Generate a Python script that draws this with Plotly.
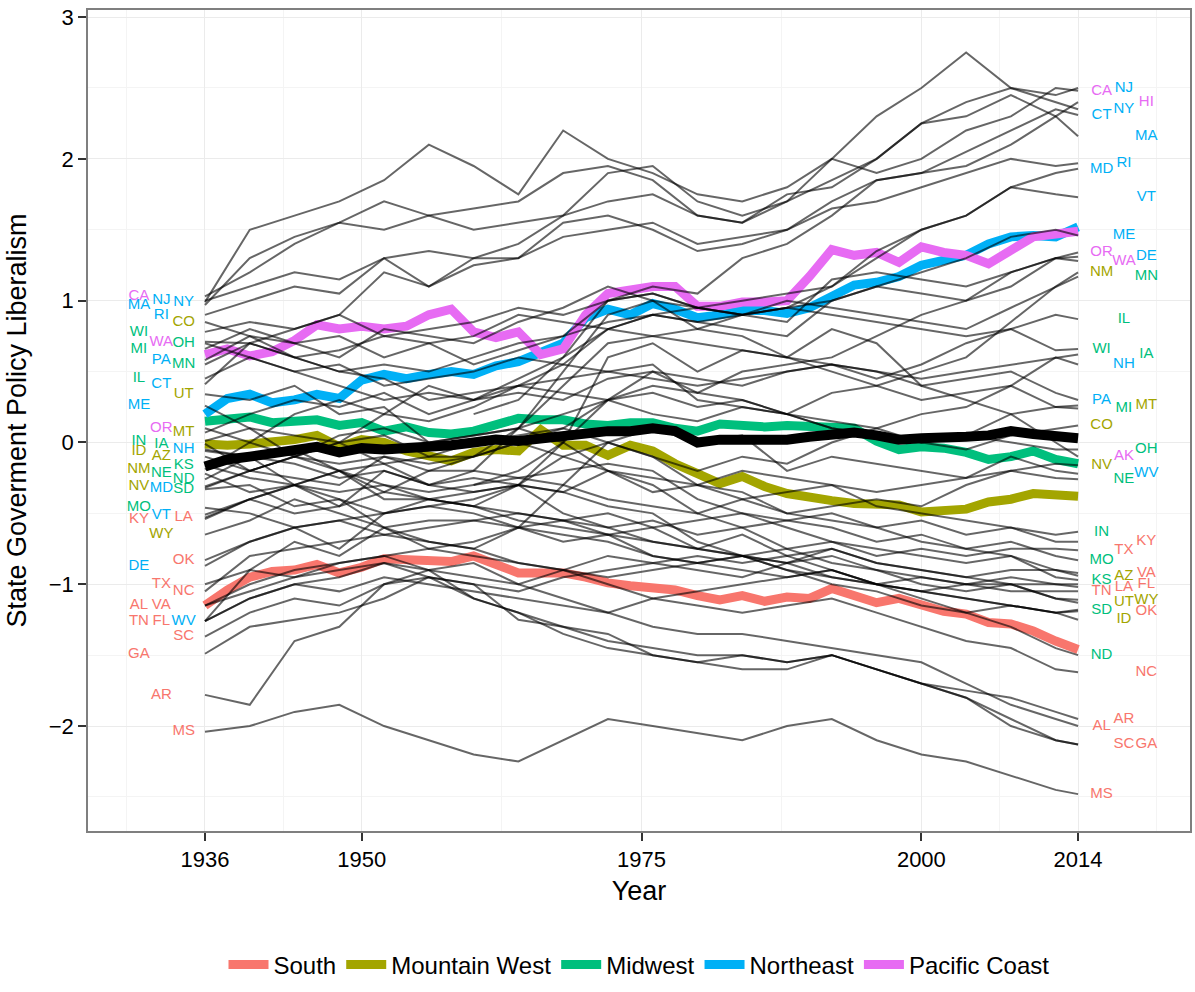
import plotly.graph_objects as go

# sample years for the individual state series
YEARS = [1936, 1940, 1944, 1948, 1952, 1956, 1960, 1964, 1968, 1972, 1976,
         1980, 1984, 1988, 1992, 1996, 2000, 2004, 2008, 2012, 2014]

SOUTH = {
    "AL": [-1.15, -1.0, -0.9, -0.85, -0.8, -0.9, -0.85, -1.0, -1.1, -1.2, -1.3, -1.35, -1.35, -1.4, -1.45, -1.5, -1.55, -1.7, -1.85, -1.95, -2.0],
    "AR": [-1.78, -1.85, -1.4, -1.3, -1.0, -0.95, -1.0, -1.25, -1.3, -1.35, -1.5, -1.55, -1.6, -1.6, -1.5, -1.6, -1.7, -1.75, -1.8, -1.9, -1.95],
    "FL": [-1.26, -1.1, -1.0, -0.95, -0.85, -0.9, -0.95, -1.0, -0.9, -0.8, -0.85, -0.9, -0.95, -0.85, -0.8, -0.9, -0.95, -1.0, -0.95, -1.0, -1.0],
    "GA": [-1.49, -1.3, -1.25, -1.2, -1.1, -0.95, -1.1, -1.2, -1.3, -1.4, -1.45, -1.5, -1.5, -1.55, -1.5, -1.6, -1.7, -1.8, -2.0, -2.1, -2.13],
    "KY": [-0.54, -0.4, -0.5, -0.45, -0.35, -0.4, -0.45, -0.5, -0.55, -0.6, -0.55, -0.65, -0.6, -0.55, -0.5, -0.6, -0.55, -0.65, -0.6, -0.7, -0.7],
    "LA": [-0.53, -0.4, -0.3, -0.35, -0.3, -0.4, -0.45, -0.55, -0.6, -0.65, -0.7, -0.75, -0.8, -0.85, -0.75, -0.85, -0.9, -0.95, -1.0, -1.0, -1.02],
    "MS": [-2.04, -2.0, -1.9, -1.85, -2.0, -2.1, -2.2, -2.25, -2.1, -1.95, -2.0, -2.05, -2.1, -2.0, -1.95, -2.1, -2.2, -2.25, -2.35, -2.45, -2.48],
    "NC": [-1.05, -0.8, -0.75, -0.7, -0.65, -0.7, -0.75, -0.85, -0.9, -1.0, -1.1, -1.15, -1.2, -1.15, -1.1, -1.2, -1.3, -1.4, -1.45, -1.6, -1.62],
    "OK": [-0.83, -0.7, -0.6, -0.55, -0.5, -0.45, -0.5, -0.6, -0.65, -0.7, -0.8, -0.85, -0.9, -0.95, -0.9, -1.0, -1.05, -1.1, -1.15, -1.2, -1.19],
    "SC": [-1.37, -1.2, -1.1, -1.15, -1.0, -0.9, -1.1, -1.2, -1.35, -1.45, -1.5, -1.55, -1.5, -1.55, -1.5, -1.6, -1.7, -1.8, -1.95, -2.1, -2.13],
    "TN": [-1.26, -1.1, -1.0, -1.05, -0.95, -1.0, -1.05, -1.1, -1.15, -1.2, -1.1, -1.05, -1.0, -0.95, -0.9, -1.0, -0.95, -1.0, -1.05, -1.05, -1.05],
    "TX": [-1.0, -0.9, -0.95, -0.85, -0.8, -0.75, -0.8, -0.85, -0.9, -0.95, -0.9, -0.85, -0.8, -0.75, -0.7, -0.8, -0.75, -0.8, -0.75, -0.75, -0.76],
    "VA": [-1.15, -1.05, -0.95, -0.9, -0.85, -0.95, -1.0, -1.05, -0.95, -0.9, -0.85, -0.8, -0.85, -0.8, -0.75, -0.85, -0.9, -0.95, -0.9, -0.9, -0.92],
}

MOUNTAIN_WEST = {
    "AZ": [-0.10, -0.2, -0.1, -0.2, -0.3, -0.35, -0.3, -0.25, -0.2, -0.15, -0.2, -0.4, -0.5, -0.6, -0.7, -0.75, -0.8, -0.85, -0.8, -0.9, -0.94],
    "CO": [0.85, 0.75, 0.6, 0.5, 0.45, 0.3, 0.35, 0.4, 0.45, 0.5, 0.55, 0.3, 0.25, 0.2, 0.1, 0.05, 0.0, -0.05, 0.05, 0.1, 0.12],
    "ID": [-0.06, -0.1, -0.05, -0.2, -0.15, -0.3, -0.25, -0.3, -0.35, -0.45, -0.5, -0.7, -0.8, -0.9, -1.0, -1.05, -1.15, -1.2, -1.15, -1.2, -1.25],
    "MT": [0.07, 0.2, 0.3, 0.25, 0.35, 0.2, 0.3, 0.35, 0.3, 0.45, 0.5, 0.35, 0.3, 0.2, 0.15, 0.1, 0.0, 0.05, 0.2, 0.25, 0.26],
    "NM": [-0.19, 0.0, -0.1, 0.05, 0.1, 0.0, 0.05, 0.1, 0.2, 0.3, 0.35, 0.25, 0.3, 0.2, 0.35, 0.4, 0.5, 0.6, 0.85, 1.1, 1.2],
    "NV": [-0.31, -0.2, -0.1, 0.0, 0.05, -0.1, 0.0, 0.05, 0.1, 0.0, -0.1, -0.3, -0.35, -0.5, -0.45, -0.4, -0.45, -0.3, -0.2, -0.15, -0.16],
    "UT": [0.34, 0.3, 0.4, 0.2, 0.25, 0.0, 0.05, 0.1, 0.0, -0.2, -0.3, -0.5, -0.6, -0.75, -0.85, -0.9, -1.0, -1.05, -1.0, -1.1, -1.13],
    "WY": [-0.65, -0.55, -0.4, -0.5, -0.6, -0.75, -0.7, -0.6, -0.55, -0.65, -0.6, -0.75, -0.8, -0.85, -0.95, -1.0, -1.05, -1.0, -1.0, -1.1, -1.11],
}

MIDWEST = {
    "IA": [-0.01, -0.2, -0.1, -0.15, -0.1, -0.2, -0.1, 0.0, 0.1, 0.3, 0.5, 0.45, 0.4, 0.5, 0.55, 0.5, 0.45, 0.5, 0.55, 0.6, 0.62],
    "IL": [0.45, 0.6, 0.5, 0.55, 0.4, 0.45, 0.5, 0.6, 0.55, 0.5, 0.45, 0.4, 0.45, 0.5, 0.55, 0.45, 0.55, 0.7, 0.8, 0.9, 0.87],
    "IN": [0.01, 0.1, -0.1, 0.0, -0.15, -0.1, -0.1, 0.0, -0.1, -0.2, -0.35, -0.3, -0.4, -0.35, -0.3, -0.45, -0.5, -0.55, -0.6, -0.65, -0.63],
    "KS": [-0.16, -0.25, -0.3, -0.2, -0.35, -0.2, -0.2, -0.25, -0.3, -0.4, -0.45, -0.5, -0.4, -0.5, -0.55, -0.6, -0.7, -0.75, -0.8, -0.95, -0.97],
    "MI": [0.66, 0.8, 0.7, 0.75, 0.6, 0.7, 0.75, 0.9, 0.85, 0.8, 0.75, 0.7, 0.65, 0.6, 0.5, 0.4, 0.3, 0.35, 0.4, 0.25, 0.24],
    "MN": [0.55, 0.7, 0.6, 0.5, 0.55, 0.5, 0.6, 0.7, 0.75, 0.85, 0.9, 0.95, 0.9, 1.0, 0.95, 0.9, 0.85, 0.8, 0.95, 1.1, 1.17],
    "MO": [-0.46, -0.5, -0.6, -0.55, -0.65, -0.6, -0.55, -0.5, -0.55, -0.5, -0.6, -0.55, -0.5, -0.55, -0.6, -0.7, -0.65, -0.75, -0.7, -0.8, -0.83],
    "ND": [-0.26, -0.1, -0.3, -0.2, -0.4, -0.4, -0.35, -0.3, -0.5, -0.6, -0.7, -0.75, -0.65, -0.8, -0.9, -1.0, -1.1, -1.2, -1.3, -1.45, -1.5],
    "NE": [-0.22, -0.35, -0.3, -0.4, -0.5, -0.45, -0.4, -0.3, -0.35, -0.2, -0.25, -0.3, -0.2, -0.25, -0.3, -0.35, -0.3, -0.25, -0.2, -0.25, -0.26],
    "OH": [0.70, 0.6, 0.5, 0.4, 0.3, 0.35, 0.3, 0.4, 0.35, 0.3, 0.2, 0.15, 0.25, 0.2, 0.1, 0.05, 0.0, 0.05, 0.0, -0.05, -0.05],
    "SD": [-0.33, -0.3, -0.45, -0.4, -0.6, -0.55, -0.55, -0.6, -0.7, -0.65, -0.8, -0.85, -0.8, -0.9, -0.95, -1.0, -1.05, -1.1, -1.15, -1.2, -1.18],
    "WI": [0.78, 0.85, 0.8, 0.9, 0.75, 0.8, 0.85, 0.95, 0.9, 1.0, 1.05, 0.95, 0.9, 0.95, 0.9, 0.85, 0.8, 0.75, 0.8, 0.65, 0.66],
}

NORTHEAST = {
    "CT": [0.41, 0.7, 0.8, 0.9, 1.2, 1.1, 1.3, 1.3, 1.55, 1.6, 1.5, 1.35, 1.4, 1.5, 1.7, 1.85, 1.9, 2.05, 2.2, 2.35, 2.31],
    "DE": [-0.87, -0.7, -0.6, -0.75, -0.5, -0.4, -0.45, -0.3, 0.0, 0.3, 0.4, 0.35, 0.5, 0.55, 0.6, 0.75, 0.9, 1.0, 1.2, 1.3, 1.31],
    "MA": [0.97, 1.3, 1.45, 1.55, 1.7, 1.6, 1.65, 1.7, 1.9, 1.95, 1.85, 1.6, 1.55, 1.75, 1.8, 2.0, 2.25, 2.3, 2.45, 2.3, 2.16],
    "MD": [-0.32, -0.2, -0.25, -0.3, -0.1, -0.15, -0.1, 0.1, 0.4, 0.7, 0.75, 0.8, 0.9, 0.95, 1.1, 1.35, 1.5, 1.6, 1.8, 1.9, 1.93],
    "ME": [0.26, 0.1, 0.05, 0.0, 0.2, 0.15, 0.25, 0.4, 0.55, 0.8, 0.9, 0.85, 0.9, 0.95, 1.0, 1.1, 1.2, 1.3, 1.45, 1.5, 1.46],
    "NH": [-0.05, -0.1, -0.15, -0.25, -0.2, -0.3, -0.35, -0.3, -0.1, 0.0, -0.1, -0.2, -0.1, -0.15, 0.0, 0.1, 0.2, 0.25, 0.4, 0.6, 0.55],
    "NJ": [1.0, 1.1, 1.2, 1.15, 1.3, 1.35, 1.3, 1.4, 1.6, 1.7, 1.75, 1.6, 1.55, 1.7, 1.85, 2.0, 2.25, 2.4, 2.5, 2.45, 2.5],
    "NY": [0.99, 1.5, 1.6, 1.7, 1.85, 2.1, 1.95, 1.75, 2.2, 2.0, 1.9, 1.75, 1.7, 1.8, 2.0, 2.3, 2.5, 2.75, 2.5, 2.4, 2.35],
    "PA": [0.58, 0.75, 0.7, 0.6, 0.8, 0.75, 0.7, 0.85, 0.95, 1.1, 1.0, 0.8, 0.75, 0.6, 0.55, 0.5, 0.4, 0.45, 0.5, 0.35, 0.3],
    "RI": [0.9, 1.0, 1.1, 1.05, 1.3, 1.1, 1.25, 1.3, 1.45, 1.5, 1.55, 1.4, 1.45, 1.5, 1.65, 1.7, 1.8, 1.9, 2.0, 1.95, 1.97],
    "VT": [-0.51, -0.4, -0.3, -0.45, -0.2, -0.3, -0.2, 0.1, 0.5, 0.9, 1.0, 0.95, 1.0, 1.05, 1.1, 1.3, 1.5, 1.6, 1.8, 1.75, 1.73],
    "WV": [-1.26, -0.9, -0.7, -0.8, -0.6, -0.7, -0.75, -0.6, -0.3, 0.0, 0.1, 0.0, 0.05, -0.2, -0.1, -0.15, -0.2, -0.25, -0.1, -0.2, -0.22],
}

PACIFIC_COAST = {
    "AK": [None, None, None, None, None, None, -0.3, -0.2, 0.0, 0.6, 0.7, 0.5, 0.65, 0.6, 0.8, 0.7, 0.4, 0.3, 0.2, 0.0, -0.1],
    "CA": [1.03, 1.2, 1.4, 1.55, 1.5, 1.6, 1.5, 1.55, 1.6, 1.9, 1.95, 1.7, 1.6, 1.7, 2.0, 1.9, 2.0, 2.2, 2.3, 2.5, 2.48],
    "HI": [None, None, None, None, None, None, 0.2, 0.3, 0.6, 1.0, 1.1, 1.05, 1.3, 1.4, 1.6, 1.85, 1.9, 1.95, 2.1, 2.3, 2.4],
    "OR": [0.1, 0.0, 0.2, 0.3, 0.2, 0.4, 0.3, 0.45, 0.6, 0.8, 0.9, 0.85, 0.8, 0.75, 1.0, 1.1, 1.05, 1.0, 1.1, 1.3, 1.34],
    "WA": [0.71, 0.7, 0.6, 0.65, 0.75, 0.7, 0.55, 0.65, 0.75, 1.0, 1.05, 0.95, 0.9, 0.85, 1.15, 1.2, 1.15, 1.1, 1.2, 1.3, 1.28],
}

# regional and overall averages, read every two years
MEAN_YEARS = list(range(1936, 2015, 2))
SOUTH_MEAN = [-1.15, -1.04, -0.95, -0.91, -0.90, -0.86, -0.92, -0.88, -0.82, -0.83,
              -0.84, -0.84, -0.80, -0.86, -0.92, -0.92, -0.92, -0.95, -0.99, -1.01,
              -1.03, -1.04, -1.08, -1.11, -1.08, -1.12, -1.09, -1.10, -1.03, -1.08,
              -1.13, -1.10, -1.14, -1.19, -1.21, -1.27, -1.28, -1.33, -1.40, -1.46]
MOUNTAIN_WEST_MEAN = [-0.01, -0.02, -0.01, 0.00, 0.02, 0.05, -0.03, 0.02, 0.00, -0.06,
                      -0.10, -0.13, -0.07, -0.05, -0.06, 0.09, -0.02, -0.02, -0.09, -0.02,
                      -0.06, -0.15, -0.22, -0.29, -0.24, -0.31, -0.36, -0.39, -0.41, -0.43,
                      -0.43, -0.44, -0.49, -0.48, -0.47, -0.42, -0.40, -0.36, -0.37, -0.38]
MIDWEST_MEAN = [0.15, 0.17, 0.18, 0.14, 0.15, 0.16, 0.12, 0.14, 0.08, 0.11,
                0.07, 0.06, 0.08, 0.12, 0.17, 0.16, 0.16, 0.13, 0.12, 0.14,
                0.14, 0.10, 0.08, 0.13, 0.12, 0.11, 0.12, 0.11, 0.10, 0.10,
                0.01, -0.05, -0.03, -0.04, -0.07, -0.12, -0.10, -0.06, -0.12, -0.15]
NORTHEAST_MEAN = [0.20, 0.31, 0.34, 0.28, 0.30, 0.34, 0.31, 0.44, 0.48, 0.45,
                  0.48, 0.50, 0.48, 0.54, 0.57, 0.63, 0.70, 0.88, 0.94, 0.90,
                  0.98, 0.94, 0.88, 0.90, 0.93, 0.93, 0.91, 0.95, 1.03, 1.11,
                  1.13, 1.17, 1.25, 1.28, 1.32, 1.40, 1.45, 1.46, 1.45, 1.52]
PACIFIC_COAST_MEAN = [0.62, 0.66, 0.61, 0.64, 0.72, 0.83, 0.80, 0.82, 0.80, 0.82,
                      0.90, 0.94, 0.78, 0.74, 0.78, 0.62, 0.66, 0.90, 1.05, 1.07,
                      1.10, 1.10, 0.96, 0.96, 0.99, 0.99, 1.00, 1.17, 1.36, 1.32,
                      1.34, 1.27, 1.38, 1.34, 1.32, 1.26, 1.35, 1.45, 1.47, 1.49]
ALL_STATES_MEAN = [-0.17, -0.12, -0.10, -0.08, -0.05, -0.03, -0.07, -0.04, -0.05, -0.04,
                   -0.04, -0.02, 0.00, 0.02, 0.01, 0.03, 0.04, 0.06, 0.08, 0.08,
                   0.10, 0.08, 0.00, 0.02, 0.02, 0.01, 0.02, 0.04, 0.06, 0.07,
                   0.05, 0.02, 0.03, 0.03, 0.04, 0.05, 0.08, 0.06, 0.05, 0.03]

REGION_NAMES = ["South", "Mountain West", "Midwest", "Northeast", "Pacific Coast"]
REGION_STATES = [SOUTH, MOUNTAIN_WEST, MIDWEST, NORTHEAST, PACIFIC_COAST]
REGION_MEANS = [SOUTH_MEAN, MOUNTAIN_WEST_MEAN, MIDWEST_MEAN, NORTHEAST_MEAN, PACIFIC_COAST_MEAN]

X_TICKS = [1936, 1950, 1975, 2000, 2014]
Y_TICKS = [-2, -1, 0, 1, 2, 3]

# --- styling / layout -------------------------------------------------------
COLORS = ["#F8766D", "#A3A500", "#00BF7D", "#00B0F6", "#E76BF3"]
# which of the three staggered label columns each state abbreviation sits in
LEFT_COL = {
    "CA": 0, "MA": 0, "WI": 0, "MI": 0, "IL": 0, "ME": 0, "IN": 0, "ID": 0, "NM": 0,
    "NV": 0, "MO": 0, "KY": 0, "DE": 0, "AL": 0, "TN": 0, "GA": 0,
    "NJ": 1, "RI": 1, "WA": 1, "PA": 1, "CT": 1, "OR": 1, "IA": 1, "AZ": 1, "NE": 1,
    "MD": 1, "VT": 1, "WY": 1, "TX": 1, "VA": 1, "FL": 1, "AR": 1,
    "NY": 2, "CO": 2, "OH": 2, "MN": 2, "UT": 2, "MT": 2, "NH": 2, "KS": 2, "ND": 2,
    "SD": 2, "LA": 2, "OK": 2, "NC": 2, "WV": 2, "SC": 2, "MS": 2,
}
RIGHT_COL = {
    "CA": 0, "CT": 0, "MD": 0, "OR": 0, "NM": 0, "WI": 0, "PA": 0, "CO": 0, "NV": 0,
    "IN": 0, "MO": 0, "KS": 0, "TN": 0, "SD": 0, "ND": 0, "AL": 0, "MS": 0,
    "NJ": 1, "NY": 1, "RI": 1, "ME": 1, "WA": 1, "IL": 1, "NH": 1, "MI": 1, "AK": 1,
    "NE": 1, "TX": 1, "AZ": 1, "LA": 1, "UT": 1, "ID": 1, "AR": 1, "SC": 1,
    "HI": 2, "MA": 2, "VT": 2, "DE": 2, "MN": 2, "IA": 2, "MT": 2, "OH": 2, "WV": 2,
    "KY": 2, "VA": 2, "FL": 2, "WY": 2, "OK": 2, "NC": 2, "GA": 2,
}
LEFT_X = [1930.1, 1932.1, 1934.1]
RIGHT_X = [2016.1, 2018.1, 2020.1]

FONT = "Liberation Sans, Arial, Helvetica, sans-serif"

fig = go.Figure()

# thick regional averages (under the state lines)
for name, means, col in zip(REGION_NAMES, REGION_MEANS, COLORS):
    fig.add_trace(go.Scatter(x=MEAN_YEARS, y=means, mode="lines", name=name,
                             line=dict(color=col, width=9), showlegend=True))

# one thin translucent line per state
for states in REGION_STATES:
    for abbr, vals in states.items():
        fig.add_trace(go.Scatter(x=YEARS, y=vals, mode="lines", showlegend=False,
                                 line=dict(color="rgba(0,0,0,0.6)", width=2),
                                 hoverinfo="skip"))

# overall average on top
fig.add_trace(go.Scatter(x=MEAN_YEARS, y=ALL_STATES_MEAN, mode="lines", showlegend=False,
                         line=dict(color="black", width=10)))

# state abbreviations at the start and end values
for states, col in zip(REGION_STATES, COLORS):
    lx, ly, lt, rx, ry, rt = [], [], [], [], [], []
    for abbr, vals in states.items():
        if abbr in LEFT_COL and vals[0] is not None:
            lx.append(LEFT_X[LEFT_COL[abbr]]); ly.append(vals[0]); lt.append(abbr)
        rx.append(RIGHT_X[RIGHT_COL[abbr]]); ry.append(vals[-1]); rt.append(abbr)
    fig.add_trace(go.Scatter(x=lx + rx, y=ly + ry, text=lt + rt, mode="text",
                             textfont=dict(color=col, size=15, family=FONT),
                             showlegend=False, hoverinfo="skip"))

axis_common = dict(showline=True, mirror=True, linecolor="#7F7F7F", linewidth=1.5,
                   ticks="outside", ticklen=8, tickcolor="#333333", tickwidth=1.5,
                   showgrid=True, gridcolor="#EBEBEB", gridwidth=1.3, zeroline=False,
                   tickfont=dict(size=22, color="black", family=FONT),
                   automargin=False)

fig.update_layout(
    width=1195, height=992, autosize=False,
    margin=dict(l=88, r=5, t=10, b=154),
    plot_bgcolor="white", paper_bgcolor="white",
    font=dict(family=FONT, color="black"),
    xaxis=dict(range=[1925.55, 2024.0], tickmode="array", tickvals=X_TICKS,
               title=dict(text="Year", font=dict(size=27), standoff=10),
               minor=dict(tickvals=[1929, 1943, 1962.5, 1987.5, 2007, 2021], showgrid=True,
                          gridcolor="#F4F4F4", gridwidth=1, ticks=""),
               **axis_common),
    yaxis=dict(range=[-2.74, 3.05], tickmode="array", tickvals=Y_TICKS,
               title=dict(text="State Goverment Policy Liberalism", font=dict(size=27), standoff=14),
               minor=dict(tickvals=[-2.5, -1.5, -0.5, 0.5, 1.5, 2.5], showgrid=True,
                          gridcolor="#F4F4F4", gridwidth=1, ticks=""),
               **axis_common),
    legend=dict(orientation="h", x=0.5, xanchor="center", y=-0.163, yanchor="middle",
                font=dict(size=24, family=FONT), itemwidth=40, traceorder="normal"),
)

# drop the browser's default 8px body margin so the figure fills the window
fig.write_html("out.html", config={"displayModeBar": False},
               post_script="document.body.style.margin='0';")
